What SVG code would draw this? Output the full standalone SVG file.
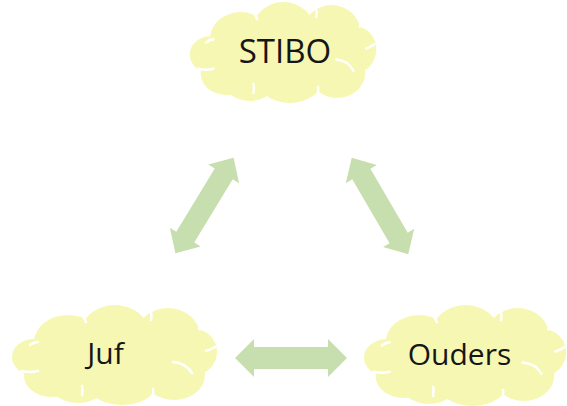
<svg xmlns="http://www.w3.org/2000/svg" xmlns:xlink="http://www.w3.org/1999/xlink" width="567" height="406" viewBox="0 0 567 406">
<style>
.cloud ellipse{fill:#F7F7B4}
.notch{fill:none;stroke:#FFFFFF;stroke-width:2.5;stroke-linecap:round}
.lbl{font-family:"Open Sans","DejaVu Sans",sans-serif;fill:#161616;text-anchor:middle}
.arrow{fill:#C7DFAE}
</style>
<defs>
<g id="cloudShape" class="cloud">
<ellipse cx="24" cy="52" rx="22" ry="18"/>
<ellipse cx="42" cy="71" rx="28" ry="21"/>
<ellipse cx="58" cy="37" rx="34" ry="27"/>
<ellipse cx="105" cy="28" rx="34" ry="28"/>
<ellipse cx="158" cy="31" rx="32" ry="28"/>
<ellipse cx="184" cy="47" rx="23" ry="23"/>
<ellipse cx="164" cy="70" rx="31" ry="25"/>
<ellipse cx="112" cy="75" rx="37" ry="25"/>
<ellipse cx="68" cy="76" rx="30" ry="22"/>
<ellipse cx="104" cy="52" rx="88" ry="36"/>
<path class="notch" d="M20,40 Q24,37 28,37 M73,10 Q74,14 76,17 M141,7 Q142,11 141,15 M193,16 Q190,20 189,24 M205,42 Q200,45 196,46 M163,57 Q176,58 182,68 M12,66 Q20,68 28,66 M72,81 Q73,85 72,90 M143,84 Q144,88 142,92"/>
</g>
<polygon id="dbl" points="-56,0 -37,-18 -37,-10.5 37,-10.5 37,-18 56,0 37,18 37,10.5 -37,10.5 -37,18"/>
</defs>
<g id="connectors" class="arrow">
<use xlink:href="#dbl" transform="translate(204.5,205.5) rotate(-58.7)"/>
<use xlink:href="#dbl" transform="translate(380,206) rotate(59.7)"/>
<use xlink:href="#dbl" transform="translate(291,358) scale(1,1.05)"/>
</g>
<g id="stibo">
<use xlink:href="#cloudShape" transform="translate(188,2) scale(0.909,1.01)"/>
<text class="lbl" x="285" y="63" font-size="33">STIBO</text>
</g>
<g id="juf">
<use xlink:href="#cloudShape" transform="translate(10,305)"/>
<text class="lbl" x="105.5" y="364" font-size="30">Juf</text>
</g>
<g id="ouders">
<use xlink:href="#cloudShape" transform="translate(362,305) scale(0.986,1.01)"/>
<text class="lbl" x="459.5" y="365" font-size="30">Ouders</text>
</g>
</svg>
